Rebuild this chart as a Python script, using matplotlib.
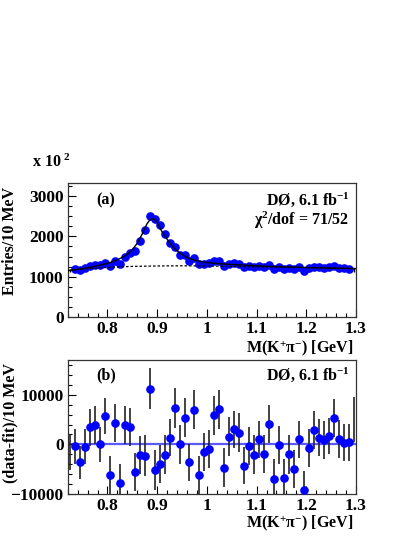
import numpy as np
import matplotlib
matplotlib.use("Agg")
import matplotlib.pyplot as plt
from matplotlib.ticker import MultipleLocator, FixedLocator

plt.rcParams['font.family'] = ['Liberation Serif', 'DejaVu Serif']
plt.rcParams['font.weight'] = 'bold'
plt.rcParams['mathtext.fontset'] = 'custom'
plt.rcParams['mathtext.rm'] = 'Liberation Serif:bold'
plt.rcParams['mathtext.it'] = 'Liberation Serif:bold'
plt.rcParams['mathtext.bf'] = 'Liberation Serif:bold'

# ---- data ----
mass = [0.725, 0.735, 0.745, 0.755, 0.765, 0.775, 0.785, 0.795, 0.805, 0.815,
        0.825, 0.835, 0.845, 0.855, 0.865, 0.875, 0.885, 0.895, 0.905, 0.915,
        0.925, 0.935, 0.945, 0.955, 0.965, 0.975, 0.985, 0.995, 1.005, 1.015,
        1.025, 1.035, 1.045, 1.055, 1.065, 1.075, 1.085, 1.095, 1.105, 1.115,
        1.125, 1.135, 1.145, 1.155, 1.165, 1.175, 1.185, 1.195, 1.205, 1.215,
        1.225, 1.235, 1.245, 1.255, 1.265, 1.275, 1.285, 1.295]

entries = [1142, 1180, 1156, 1221, 1270, 1295, 1279, 1344, 1262, 1393,
           1320, 1492, 1582, 1639, 1893, 2148, 2500, 2418, 2279, 2049,
           1844, 1738, 1549, 1533, 1385, 1459, 1320, 1320, 1328, 1385,
           1385, 1254, 1311, 1328, 1311, 1238, 1262, 1246, 1262, 1238,
           1287, 1180, 1246, 1180, 1221, 1180, 1238, 1131, 1221, 1246,
           1230, 1221, 1230, 1254, 1205, 1205, 1197, 1172]

residual = [-1560, -400, -3700, -500, 3400, 3900, 0, 5700, -6300, 4350,
            -7900, 3900, 3500, -5600, -2200, -2300, 11300, -5200, -4000, -2100,
            1360, 7280, 0, 5400, -3700, 7000, -6300, -1630, -950, 5850,
            7070, -4800, 1560, 3000, 2380, -4350, -400, -2100, 1020, -1970,
            4080, -7000, -70, -6940, -2040, -5030, 1020, -9250, -750, 2900,
            1360, 820, 1700, 5300, 1020, 340, 400, 5030]

residual_err = [3740, 3570, 3400, 3570, 3670, 3810, 3570, 3710, 3880, 3910,
                3910, 3840, 3910, 3810, 3910, 4180, 4180, 4010, 3910, 3910,
                3840, 4080, 3910, 3910, 3810, 3910, 3910, 3880, 3840, 3980,
                3980, 3980, 4010, 3840, 3910, 3810, 3910, 3910, 3740, 3840,
                3910, 3910, 3840, 3910, 3910, 3810, 3740, 3740, 3770, 3770,
                3740, 3840, 3710, 3810, 3810, 3740, 3740, 4590]

entries_err = [38, 36, 34, 36, 37, 38, 36, 37, 39, 39,
               39, 38, 39, 38, 39, 42, 42, 40, 39, 39,
               38, 41, 39, 39, 38, 39, 39, 39, 38, 40,
               40, 40, 40, 38, 39, 38, 39, 39, 37, 38,
               39, 39, 38, 39, 39, 38, 37, 37, 38, 38,
               37, 38, 37, 38, 38, 37, 37, 46]

# marker shown (first and last bins show only their error bars)
shown = [False] + [True] * 56 + [False]

fit_mass = [0.72, 0.73, 0.74, 0.75, 0.76, 0.77, 0.78, 0.79, 0.80, 0.81,
            0.82, 0.83, 0.84, 0.85, 0.86, 0.87, 0.875, 0.88, 0.885, 0.89,
            0.895, 0.90, 0.905, 0.91, 0.92, 0.93, 0.94, 0.95, 0.96, 0.97,
            0.98, 0.99, 1.00, 1.02, 1.04, 1.06, 1.08, 1.10, 1.15, 1.20,
            1.25, 1.30]
fit_total = [1150, 1165, 1180, 1200, 1220, 1245, 1270, 1300, 1330, 1370,
             1420, 1480, 1560, 1670, 1830, 2060, 2200, 2320, 2400, 2440,
             2420, 2340, 2220, 2110, 1930, 1760, 1640, 1550, 1480, 1430,
             1395, 1370, 1350, 1325, 1310, 1295, 1283, 1270, 1245, 1228,
             1213, 1200]

bkg_mass = [0.72, 0.75, 0.80, 0.85, 0.90, 0.95, 1.00, 1.05, 1.10, 1.15,
            1.20, 1.25, 1.30]
bkg_value = [1150, 1190, 1230, 1255, 1265, 1270, 1265, 1255, 1245, 1235,
             1225, 1212, 1200]

xticks = [0.8, 0.9, 1.0, 1.1, 1.2, 1.3]
xticklabels = ['0.8', '0.9', '1', '1.1', '1.2', '1.3']
yticks_top = [0, 1000, 2000, 3000]
yticks_bot = [-10000, 0, 10000]

# ---- figure ----
W, H = 415, 537
fig = plt.figure(figsize=(W / 100, H / 100), dpi=100)

def px_axes(left, top, right, bottom):
    return fig.add_axes([left / W, 1 - bottom / H, (right - left) / W, (bottom - top) / H])

ax1 = px_axes(67.7, 182.7, 356, 317)
ax2 = px_axes(67.7, 360, 356, 494)

blue = '#0000ff'
fs = 11.5
tfs = 12.5

mass_a = np.array(mass)
show_a = np.array(shown)

# top panel
ax1.errorbar(mass, entries, yerr=entries_err, fmt='none', ecolor='black', elinewidth=1.0, zorder=2)
ax1.plot(mass_a[show_a], np.array(entries)[show_a], 'o', color=blue, ms=5.2, mec=blue, zorder=3)
ax1.plot(bkg_mass, bkg_value, color='black', lw=0.9, ls=(0, (2.0, 1.6)), zorder=4)
ax1.plot(fit_mass, fit_total, color='black', lw=1.0, zorder=4)
ax1.set_xlim(0.72, 1.30)
ax1.set_ylim(0, 3330)
ax1.yaxis.set_major_locator(FixedLocator(yticks_top))
ax1.yaxis.set_minor_locator(MultipleLocator(250))

# bottom panel
ax2.axhline(0, color='#5a5aff', lw=1.6, zorder=1)
ax2.errorbar(mass, residual, yerr=residual_err, fmt='none', ecolor='#222222', elinewidth=1.2, zorder=2)
ax2.plot(mass_a[show_a], np.array(residual)[show_a], 'o', color=blue, ms=5.2, mec=blue, zorder=3)
ax2.set_xlim(0.72, 1.30)
ax2.set_ylim(-10100, 17100)
ax2.yaxis.set_major_locator(FixedLocator(yticks_bot))
ax2.yaxis.set_minor_locator(MultipleLocator(2000))

for ax in (ax1, ax2):
    ax.set_xticks(xticks)
    ax.set_xticklabels(xticklabels)
    ax.xaxis.set_minor_locator(MultipleLocator(0.02))
    ax.tick_params(which='both', direction='in', top=False, right=False,
                   labelsize=tfs, width=0.8)
    ax.tick_params(which='major', length=6)
    ax.tick_params(which='minor', length=3)
    ax.tick_params(axis='x', pad=3)
    ax.tick_params(axis='y', pad=3)
    for lab in ax.get_xticklabels() + ax.get_yticklabels():
        lab.set_fontweight('bold')
    for sp in ax.spines.values():
        sp.set_linewidth(0.9)
        sp.set_color('#333333')

# texts
ax1.text(0.10, 0.871, '(a)', transform=ax1.transAxes, fontsize=fs, fontweight='bold',
         ha='left', va='center')
ax1.text(0.979, 0.871, 'DØ, 6.1 fb$^{-1}$', transform=ax1.transAxes, fontsize=fs,
         fontweight='bold', ha='right', va='center')
ax1.text(0.976, 0.722, 'χ$^{2}$/dof = 71/52', transform=ax1.transAxes, fontsize=fs,
         fontweight='bold', ha='right', va='center')
ax2.text(0.10, 0.888, '(b)', transform=ax2.transAxes, fontsize=fs, fontweight='bold',
         ha='left', va='center')
ax2.text(0.979, 0.888, 'DØ, 6.1 fb$^{-1}$', transform=ax2.transAxes, fontsize=fs,
         fontweight='bold', ha='right', va='center')

ax1.text(0.99, -0.231, 'M(K$^{+}$π$^{-}$) [GeV]', transform=ax1.transAxes, fontsize=fs,
         fontweight='bold', ha='right', va='center')
ax2.text(0.99, -0.216, 'M(K$^{+}$π$^{-}$) [GeV]', transform=ax2.transAxes, fontsize=fs,
         fontweight='bold', ha='right', va='center')

fig.text(0.024, 1 - 187 / H, 'Entries/10 MeV', rotation=90, fontsize=fs,
         fontweight='bold', ha='center', va='top')
fig.text(0.024, 1 - 363 / H, '(data-fit)/10 MeV', rotation=90, fontsize=fs,
         fontweight='bold', ha='center', va='top')
fig.text(32 / W, 1 - 162 / H, 'x 10$^{\\ 2}$', fontsize=fs, fontweight='bold',
         ha='left', va='center')

fig.savefig('out.png', dpi=100)
